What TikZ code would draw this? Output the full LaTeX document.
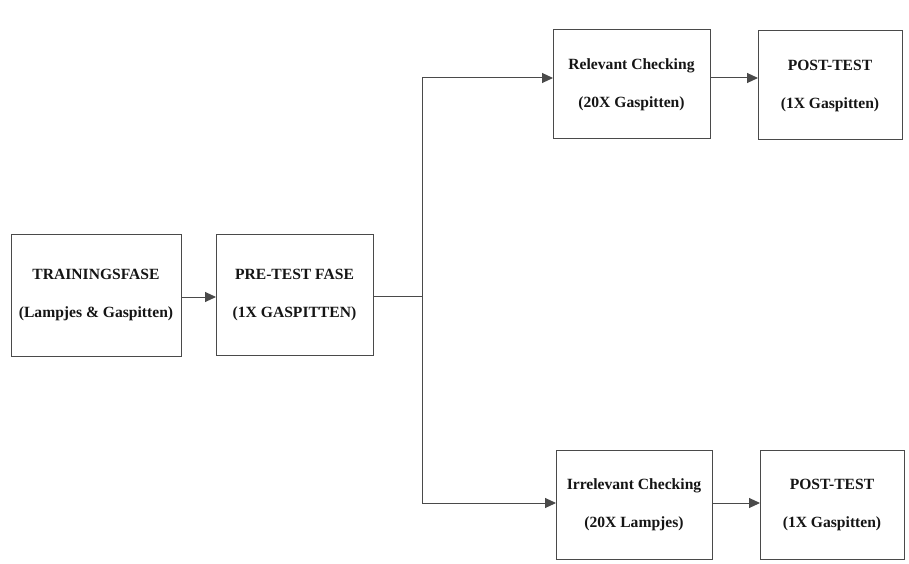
\documentclass[tikz,border=0pt]{standalone}
\usepackage{fontspec}
\setmainfont{Liberation Serif}
\usetikzlibrary{arrows.meta}
\definecolor{linegray}{HTML}{4A4A4A}
\definecolor{txt}{HTML}{151515}
\tikzset{
  box/.style={draw=linegray, line width=1pt, rectangle, inner sep=0pt, outer sep=0pt,
    align=center, text=txt, font=\fontsize{15.6}{38}\selectfont\bfseries},
  conn/.style={draw=linegray, line width=1pt},
  arr/.style={conn, -{Triangle[length=11pt,width=10pt]}}
}
\begin{document}
\begin{tikzpicture}[x=1pt,y=-1pt]
\useasboundingbox[fill=white] (0,0) rectangle (909,564);
\node[box, minimum width=170pt, minimum height=122pt] (A) at (96,295) {TRAININGSFASE\\(Lampjes \& Gaspitten)};
\node[box, minimum width=157pt, minimum height=121pt] (B) at (294.5,294.5) {PRE-TEST FASE\\(1X GASPITTEN)};
\node[box, minimum width=157pt, minimum height=109pt] (C) at (631.5,84.5) {Relevant Checking\\(20X Gaspitten)};
\node[box, minimum width=144pt, minimum height=109pt] (D) at (830,85.5) {POST-TEST\\(1X Gaspitten)};
\node[box, minimum width=156pt, minimum height=109pt] (E) at (634,504.5) {Irrelevant Checking\\(20X Lampjes)};
\node[box, minimum width=144pt, minimum height=109pt] (F) at (832,504.5) {POST-TEST\\(1X Gaspitten)};
\coordinate (j) at (422,296);
\coordinate (ct) at ([yshift=6.5pt]C.west);
\coordinate (et) at ([yshift=1.5pt]E.west);
\coordinate (ce) at ([yshift=6.5pt]C.east);
\coordinate (ee) at ([yshift=1.5pt]E.east);
\coordinate (ae) at ([yshift=-2pt]A.east);
\draw[arr] (ae) -- (ae -| B.west);
\draw[conn] (B.east |- j) -- (j);
\draw[arr] (j) |- (ct);
\draw[arr] (j) |- (et);
\draw[arr] (ce) -- (ce -| D.west);
\draw[arr] (ee) -- (ee -| F.west);
\end{tikzpicture}
\end{document}
